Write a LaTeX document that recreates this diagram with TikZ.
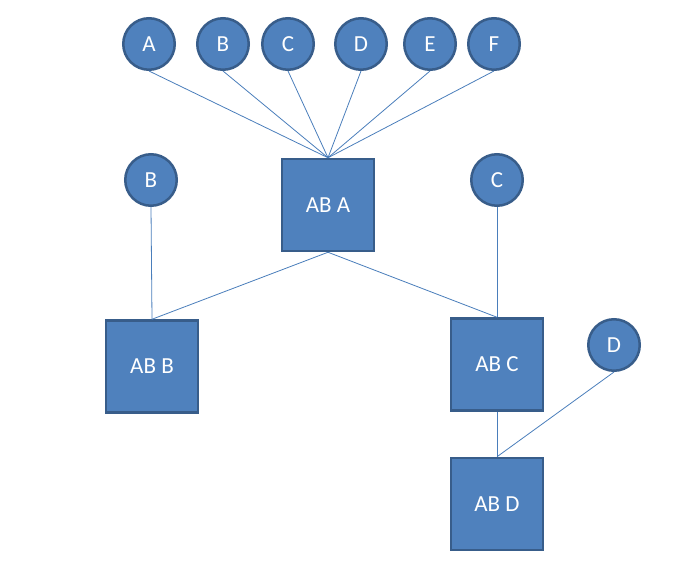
\documentclass[tikz,border=0pt]{standalone}
\usepackage{fontspec}
\setmainfont{Carlito}
\definecolor{nodefill}{HTML}{4F81BD}
\definecolor{nodeline}{HTML}{385D8A}
\definecolor{linkline}{HTML}{4A7EBB}
\begin{document}
\begin{tikzpicture}[x=1pt,y=-1pt,
  leaf node/.style={circle,draw=nodeline,fill=nodefill,line width=2.5pt,
    text=white,font=\fontsize{23}{27}\selectfont,minimum size=51.5pt,inner sep=0pt},
  box node/.style={rectangle,draw=nodeline,fill=nodefill,line width=2.5pt,
    text=white,font=\fontsize{23}{27}\selectfont,minimum size=92pt,inner sep=0pt}]

  \useasboundingbox (0,0) rectangle (687,569);

  \node[leaf node] (a1) at (149,44) {A};
  \node[leaf node] (b1) at (223,44) {B};
  \node[leaf node] (c1) at (288,44) {C};
  \node[leaf node] (d1) at (361,44) {D};
  \node[leaf node] (e1) at (430,44) {E};
  \node[leaf node] (f1) at (494,44) {F};
  \node[leaf node] (b2) at (151,180) {B};
  \node[leaf node] (c2) at (497,180) {C};
  \node[leaf node] (d2) at (614,345) {D};

  \node[box node] (abA) at (328,205) {AB A};
  \node[box node] (abB) at (152,366.5) {AB B};
  \node[box node] (abC) at (497,364.5) {AB C};
  \node[box node] (abD) at (497,504) {AB D};

  \path[draw=linkline,line width=0.8pt]
   (a1.south) edge (abA.north)
   (b1.south) edge (abA.north)
   (c1.south) edge (abA.north)
   (d1.south) edge (abA.north)
   (e1.south) edge (abA.north)
   (f1.south) edge (abA.north)
   (b2.south) edge (abB.north)
   (c2.south) edge (abC.north)
   (abA.south) edge (abB.north)
   (abA.south) edge (abC.north)
   (abC.south) edge (abD.north)
   (d2.south) edge (abD.north);
\end{tikzpicture}
\end{document}
